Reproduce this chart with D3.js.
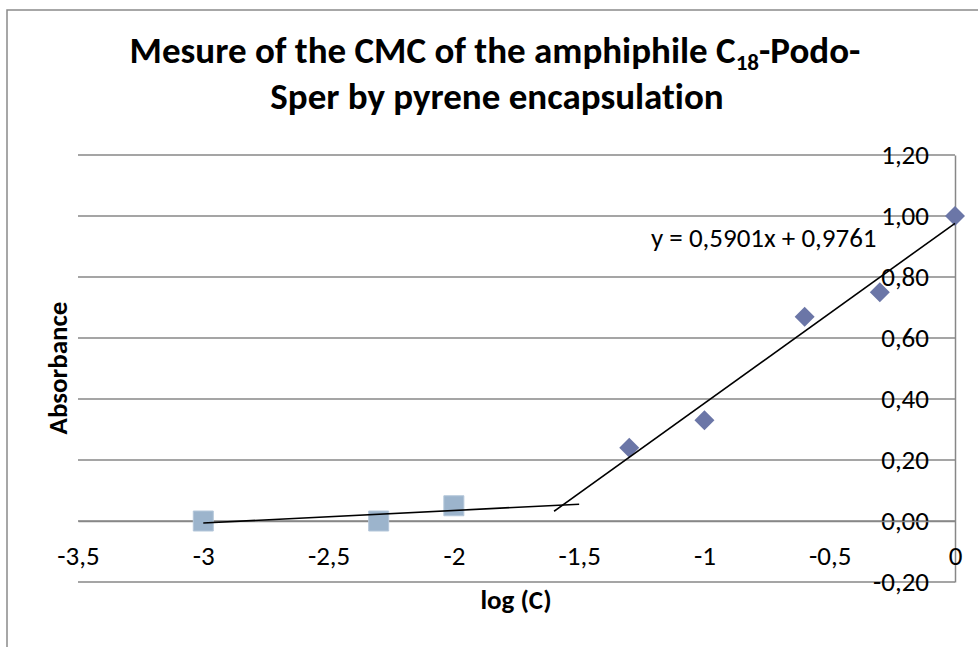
<!DOCTYPE html>
<html>
<head>
<meta charset="utf-8">
<script src="https://cdn.jsdelivr.net/npm/d3@7"></script>
<style>
  body { margin: 0; background: #fff; }
  svg { display: block; }
  text { font-family: Carlito, Calibri, Lato, sans-serif; fill: #000; font-variant-ligatures: none; }
</style>
</head>
<body>
<svg id="chart" width="978" height="647"></svg>
<script>
// Pyrene absorbance versus log of concentration
const lowX = [-3, -2.3, -2];          // below the CMC
const lowY = [0.00, 0.00, 0.05];
const highX = [-1.3, -1, -0.6, -0.3, 0]; // above the CMC
const highY = [0.24, 0.33, 0.67, 0.75, 1.00];

const xTicks = [-3.5, -3, -2.5, -2, -1.5, -1, -0.5, 0];
const yTicks = [-0.2, 0, 0.2, 0.4, 0.6, 0.8, 1.0, 1.2];

// fitted line printed on the chart
const fitSlope = 0.5901;
const fitIntercept = 0.9761;
const equationText = "y = 0,5901x + 0,9761";

const titleLine1 = ["Mesure of the CMC of the amphiphile C", "18", "-Podo-"];
const titleLine2 = "Sper by pyrene encapsulation";
const xTitle = "log (C)";
const yTitle = "Absorbance";

const svg = d3.select("#chart");
const W = 978, H = 647;

const locale = d3.formatLocale({ decimal: ",", thousands: " ", grouping: [3], currency: ["", ""], minus: "-" });
const fmtY = locale.format(".2f");
const fmtX = locale.format("~g");

const x = d3.scaleLinear().domain([-3.5, 0]).range([78, 955]);
const y = d3.scaleLinear().domain([-0.2, 1.2]).range([582, 155]);

const gridColor = "#878787";
const tickFont = 27;

// chart frame (left and top edges)
svg.append("path")
  .attr("d", `M7,${H} V10 H${W}`)
  .attr("fill", "none")
  .attr("stroke", "#8a8a8a")
  .attr("stroke-width", 1.5);

// horizontal gridlines
svg.append("g")
  .selectAll("line")
  .data(yTicks)
  .join("line")
  .attr("x1", x(-3.5))
  .attr("x2", x(0))
  .attr("y1", d => y(d))
  .attr("y2", d => y(d))
  .attr("stroke", gridColor)
  .attr("stroke-width", 1.5);

// value axis sits at x = 0
const yAxis = svg.append("g")
  .attr("transform", `translate(${x(0)},0)`)
  .call(d3.axisLeft(y).tickValues(yTicks).tickFormat(fmtY).tickSize(0).tickSizeOuter(0).tickPadding(26));
yAxis.select(".domain").attr("stroke", gridColor).attr("stroke-width", 1.5);
yAxis.selectAll("text").attr("font-size", tickFont).attr("font-family", null);

// category axis sits at y = 0
const xAxis = svg.append("g")
  .attr("transform", `translate(0,${y(0)})`)
  .call(d3.axisBottom(x).tickValues(xTicks).tickFormat(fmtX).tickSize(0).tickSizeOuter(0).tickPadding(25));
xAxis.select(".domain").attr("stroke", gridColor).attr("stroke-width", 1.5);
xAxis.selectAll("text").attr("font-size", tickFont).attr("font-family", null);

// least-squares line through the low-concentration points, extended 0.5 forward
const mx = d3.mean(lowX), my = d3.mean(lowY);
const sxy = d3.sum(lowX, (v, i) => (v - mx) * (lowY[i] - my));
const sxx = d3.sum(lowX, v => (v - mx) * (v - mx));
const lowSlope = sxy / sxx, lowIntercept = my - lowSlope * mx;
const lowRange = [d3.min(lowX), d3.max(lowX) + 0.5];
const highRange = [d3.min(highX) - 0.3, d3.max(highX)];

const line = d3.line().x(d => x(d[0])).y(d => y(d[1]));

// markers
svg.append("g")
  .selectAll("path")
  .data(highX.map((v, i) => [v, highY[i]]))
  .join("path")
  .attr("d", d3.symbol(d3.symbolSquare, 200)())
  .attr("transform", d => `translate(${x(d[0])},${y(d[1])}) rotate(45)`)
  .attr("fill", "#6B76A7");

svg.append("g")
  .selectAll("path")
  .data(lowX.map((v, i) => [v, lowY[i]]))
  .join("path")
  .attr("d", d3.symbol(d3.symbolSquare, 400)())
  .attr("transform", d => `translate(${x(d[0])},${y(d[1])})`)
  .attr("fill", "#9CB4CC")
  .attr("stroke", "#B4C7DA")
  .attr("stroke-width", 1);

// trend lines drawn over the markers
svg.append("path")
  .attr("d", line(highRange.map(v => [v, fitSlope * v + fitIntercept])))
  .attr("fill", "none").attr("stroke", "#000").attr("stroke-width", 1.6);

svg.append("path")
  .attr("d", line(lowRange.map(v => [v, lowSlope * v + lowIntercept])))
  .attr("fill", "none").attr("stroke", "#000").attr("stroke-width", 1.6);

// equation label
svg.append("text")
  .attr("x", 651).attr("y", 247)
  .attr("font-size", 27)
  .text(equationText);

// title
const t1 = svg.append("text")
  .attr("x", 495).attr("y", 63)
  .attr("text-anchor", "middle")
  .attr("font-size", 37).attr("font-weight", "bold");
t1.append("tspan").text(titleLine1[0]);
t1.append("tspan").attr("font-size", 23).attr("dy", 7).text(titleLine1[1]);
t1.append("tspan").attr("dy", -7).text(titleLine1[2]);

svg.append("text")
  .attr("x", 497).attr("y", 109)
  .attr("text-anchor", "middle")
  .attr("font-size", 37).attr("font-weight", "bold")
  .text(titleLine2);

// axis titles
svg.append("text")
  .attr("x", 516).attr("y", 609)
  .attr("text-anchor", "middle")
  .attr("font-size", 27).attr("font-weight", "bold")
  .text(xTitle);

svg.append("text")
  .attr("transform", "translate(67,368) rotate(-90)")
  .attr("text-anchor", "middle")
  .attr("font-size", 27).attr("font-weight", "bold")
  .text(yTitle);
</script>
</body>
</html>
